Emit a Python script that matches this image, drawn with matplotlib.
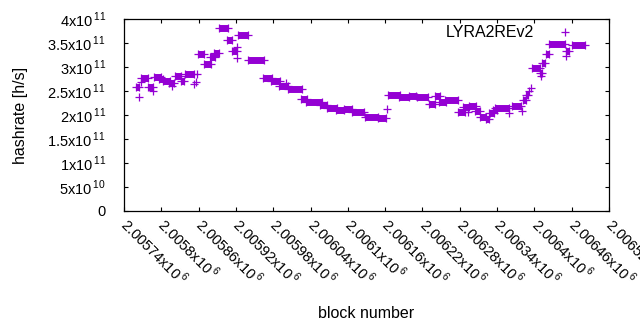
import matplotlib
matplotlib.use('Agg')
import matplotlib.pyplot as plt
import matplotlib.transforms as mtransforms
from matplotlib.lines import Line2D

plt.rcParams.update({'font.family': ['Liberation Sans', 'DejaVu Sans'],
                     'font.size': 11, 'mathtext.fontset': 'custom',
                     'mathtext.rm': 'Liberation Sans'})

COLOR = '#9400d3'

# runs of blocks with identical hashrate: start block, end block, value
run_start = [2005759, 2005767, 2005779, 2005788, 2005796, 2005803, 2005812, 2005822,
             2005832, 2005838, 2005859, 2005869, 2005878, 2005885, 2005893, 2005906,
             2005914, 2005923, 2005939, 2005964, 2005976, 2005989, 2006004, 2006025,
             2006033, 2006055, 2006066, 2006081, 2006094, 2006107, 2006128, 2006148,
             2006165, 2006182, 2006198, 2006211, 2006230, 2006240, 2006247, 2006256,
             2006277, 2006285, 2006295, 2006304, 2006312, 2006322, 2006327, 2006333,
             2006337, 2006364, 2006382, 2006386, 2006396, 2006409, 2006413, 2006419,
             2006423, 2006451, 2006460]
run_end = [2005764, 2005779, 2005787, 2005800, 2005803, 2005814, 2005820, 2005832,
           2005836, 2005853, 2005869, 2005880, 2005886, 2005893, 2005907, 2005914,
           2005922, 2005939, 2005965, 2005978, 2005991, 2006004, 2006026, 2006034,
           2006058, 2006066, 2006083, 2006094, 2006107, 2006126, 2006148, 2006161,
           2006184, 2006198, 2006210, 2006229, 2006240, 2006248, 2006258, 2006277,
           2006288, 2006295, 2006306, 2006312, 2006322, 2006327, 2006335, 2006340,
           2006359, 2006378, 2006386, 2006390, 2006409, 2006413, 2006417, 2006423,
           2006449, 2006456, 2006481]
run_rate = [2.58e11, 2.77e11, 2.58e11, 2.79e11, 2.75e11, 2.71e11, 2.67e11, 2.81e11,
            2.71e11, 2.85e11, 3.27e11, 3.06e11, 3.21e11, 3.29e11, 3.81e11, 3.56e11,
            3.33e11, 3.67e11, 3.15e11, 2.77e11, 2.71e11, 2.60e11, 2.54e11, 2.33e11,
            2.27e11, 2.21e11, 2.15e11, 2.10e11, 2.12e11, 2.06e11, 1.96e11, 1.94e11,
            2.42e11, 2.37e11, 2.40e11, 2.37e11, 2.23e11, 2.40e11, 2.27e11, 2.31e11,
            2.06e11, 2.17e11, 2.19e11, 2.08e11, 1.96e11, 1.92e11, 2.04e11, 2.10e11,
            2.15e11, 2.19e11, 2.31e11, 2.42e11, 2.98e11, 2.87e11, 3.08e11, 3.27e11,
            3.48e11, 3.33e11, 3.46e11]

# single blocks
pt_block = [2005764, 2005767, 2005787, 2005817, 2005853, 2005856, 2005857, 2005922,
            2005922, 2006001, 2006163, 2006293, 2006359, 2006380, 2006391, 2006395,
            2006411, 2006451]
pt_rate = [2.375e11, 2.69e11, 2.50e11, 2.60e11, 2.65e11, 2.69e11, 2.85e11, 3.42e11,
           3.19e11, 2.67e11, 2.12e11, 2.06e11, 2.04e11, 2.08e11, 2.50e11, 2.56e11,
           2.81e11, 3.23e11]

x_ticks = [2005740, 2005800, 2005860, 2005920, 2005980, 2006040, 2006100,
           2006160, 2006220, 2006280, 2006340, 2006400, 2006460, 2006520]
x_labels = ['2.00574', '2.0058', '2.00586', '2.00592', '2.00598', '2.00604', '2.0061',
            '2.00616', '2.00622', '2.00628', '2.00634', '2.0064', '2.00646', '2.00652']
y_ticks = [0, 5e10, 1e11, 1.5e11, 2e11, 2.5e11, 3e11, 3.5e11, 4e11]
y_labels = ['0', '5x10|10', '1x10|11', '1.5x10|11', '2x10|11', '2.5x10|11',
            '3x10|11', '3.5x10|11', '4x10|11']


def sci(lbl):
    if '|' not in lbl:
        return lbl
    base, exp = lbl.split('|')
    return r'$\mathregular{%s}^{\,\mathregular{%s}}$' % (base, exp)


fig = plt.figure(figsize=(6.4, 3.3), dpi=100)
ax = fig.add_axes([124 / 640, 1 - 211 / 330, 485 / 640, 192 / 330])

ax.hlines(run_rate, run_start, run_end, color=COLOR, linewidth=5.0)
ax.plot(run_start + run_end, run_rate + run_rate, '+', color=COLOR,
        markersize=5.5, markeredgewidth=0.9)
ax.plot(pt_block, pt_rate, '+', color=COLOR, markersize=5.5, markeredgewidth=0.9)

ax.set_xlim(2005740, 2006520)
ax.set_ylim(0, 4e11)
ax.set_xticks(x_ticks)
ax.set_xticklabels([sci(l + 'x10|6') for l in x_labels], rotation=-45,
                   ha='left', va='center', rotation_mode='anchor', fontsize=10.5)
shift = mtransforms.ScaledTranslation(6 / 100, 0, fig.dpi_scale_trans)
for t in ax.get_xticklabels():
    t.set_transform(t.get_transform() + shift)
ax.set_yticks(y_ticks)
ax.set_yticklabels([sci(l) for l in y_labels], fontsize=10.5)
ax.tick_params(direction='in', length=2.6, width=0.8, top=True, right=True)
ax.tick_params(axis='x', pad=7)
ax.tick_params(axis='y', pad=13)
for s in ax.spines.values():
    s.set_linewidth(0.9)

ax.set_xlabel('block number', fontsize=11.5, labelpad=13)
ax.set_ylabel('hashrate [h/s]', fontsize=11.5, labelpad=14)

key = Line2D([], [], linestyle='none', marker='+', color=COLOR,
             markersize=5.5, markeredgewidth=0.9, label='LYRA2REv2')
ax.legend(handles=[key], loc='upper right', markerfirst=False, frameon=False,
          fontsize=11.5, handlelength=2.2, borderaxespad=0.0,
          bbox_to_anchor=(0.958, 1.0))

fig.savefig('out.png', dpi=100)
